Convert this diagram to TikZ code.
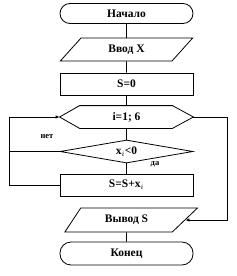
\documentclass[tikz,border=0pt]{standalone}
\usepackage{fontspec}
\setmainfont{Liberation Serif}
\usetikzlibrary{arrows.meta, positioning, shapes.geometric}

\begin{document}
\begin{tikzpicture}[x=1pt, y=-1pt,
  base/.style={draw, line width=0.8pt, minimum width=133pt, inner sep=1pt,
               font=\fontsize{11.5}{13}\selectfont\bfseries},
  term/.style={base, rounded corners=10pt, minimum height=20pt},
  proc/.style={base, rectangle, minimum height=22pt},
  io/.style={base, trapezium, trapezium stretches=true, minimum height=23pt,
             trapezium left angle=53, trapezium right angle=127},
  loop/.style={base, draw=none, rectangle, minimum height=22pt},
  cond/.style={base, diamond, aspect=5.8, minimum height=23pt},
  lbl/.style={font=\fontsize{8.5}{9}\selectfont\bfseries},
  line/.style={line width=0.8pt},
  arrow/.style={line, -{Latex[length=4pt, width=3.5pt]}}]

  \useasboundingbox (0,0) rectangle (236,276);

  \node[term] (start) at (126.5,13.5)  {Начало};
  \node[io]   (in)    at (126.5,49.5)  {Ввод X};
  \node[proc] (init)  at (126.5,84)    {S=0};
  \node[loop] (for)   at (126.5,117)   {i=1; 6};
  \node[cond] (neg)   at (126.5,151.5) {x$_i$<0};
  \node[proc] (sum)   at (126.5,185)   {S=S+x$_i$};
  \node[io, minimum height=24pt, trapezium left angle=56,
        trapezium right angle=137] (out) at (126.5,220) {Вывод S};
  \node[term, minimum height=23pt, rounded corners=11pt] (stop) at (126.5,253.5) {Конец};

  % hexagon of the loop head
  \draw[line] (for.west) -- ([xshift=20pt]for.north west)
    -- ([xshift=-21pt]for.north east) -- (for.east)
    -- ([xshift=-21pt]for.south east) -- ([xshift=20pt]for.south west) -- cycle;

  \coordinate (lb) at (9,185);
  \coordinate (rt) at (227,117);

  \draw[line] (start) -- (in);
  \draw[line] (in)    -- (init);
  \draw[line] (init)  -- (for);
  \draw[line] (for)   -- (neg);
  \draw[line] (neg)   -- (sum);
  \draw[line] (out)   -- (stop);

  \draw[arrow] (sum.west) -- (lb) |- (for.west);
  \draw[line] (neg.west) -- (neg.west -| lb);
  \draw[arrow] (for.east) -- (rt) |- (out.east);

  \node[lbl] (no)  at (47,137) {нет};
  \node[lbl] (yes) at (155,164) {да};
\end{tikzpicture}
\end{document}
